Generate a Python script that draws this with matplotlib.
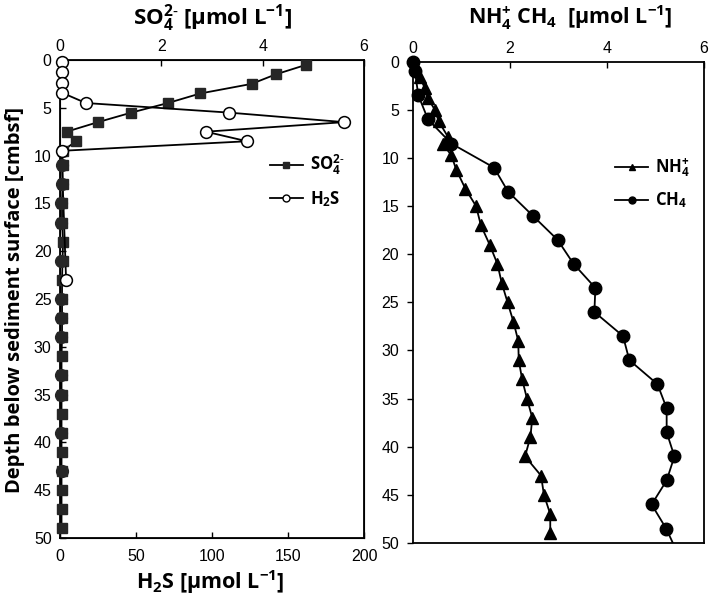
import matplotlib
matplotlib.use("Agg")
import matplotlib.pyplot as plt
from matplotlib.lines import Line2D

# ---------------- data ----------------
so4_depth = [0.5, 1.5, 2.5, 3.5, 4.5, 5.5, 6.5, 7.5, 8.5, 9.5,
             11, 13, 15, 17, 19, 21, 23, 25, 27, 29, 31, 33, 35, 37, 39, 41, 43, 45, 47, 49]
so4_conc = [4.86, 4.26, 3.78, 2.77, 2.13, 1.41, 0.75, 0.13, 0.32, 0.05,
            0.05, 0.05, 0.04, 0.04, 0.06, 0.05, 0.04, 0.04, 0.04, 0.04, 0.03, 0.03, 0.03, 0.03,
            0.03, 0.03, 0.03, 0.03, 0.03, 0.03]

h2s_depth = [0.2, 1.3, 2.4, 3.4, 4.5, 5.5, 6.5, 7.5, 8.5, 9.5, 23]
h2s_conc = [1, 1, 1, 1, 17, 111, 187, 96, 123, 1, 4]

# dark (overlapping) markers visible at the bottom of the left profile
dark_depth = [11, 13, 15, 17, 21, 25, 27, 29, 33, 35, 39, 43]
dark_conc = [1.5, 1.5, 0.5, 0.5, 0.5, 0.5, 0.5, 0.5, 0.5, 0.5, 0.5, 1.0]

nh4_depth = [0.3, 1.6, 2.7, 3.8, 5.0, 6.2, 7.8, 8.6, 9.7, 11.2, 13.2,
             15, 17, 19, 21, 23, 25, 27, 29, 31, 33, 35, 37, 39, 41, 43, 45, 47, 49]
nh4_conc = [0.04, 0.14, 0.24, 0.31, 0.45, 0.53, 0.72, 0.62, 0.79, 0.89, 1.08,
            1.30, 1.40, 1.58, 1.74, 1.83, 1.95, 2.07, 2.17, 2.18, 2.25, 2.35, 2.46, 2.42,
            2.31, 2.64, 2.70, 2.83, 2.83]

ch4_depth = [0, 1, 3.5, 6, 8.5, 11, 13.5, 16, 18.5, 21, 23.5, 26, 28.5, 31,
             33.5, 36, 38.5, 41, 43.5, 46, 48.5, 51]
ch4_conc = [0.0, 0.04, 0.11, 0.31, 0.79, 1.67, 1.96, 2.47, 2.98, 3.31, 3.76, 3.74,
            4.33, 4.46, 5.04, 5.23, 5.23, 5.39, 5.23, 4.92, 5.22, 5.45]

depth_ticks = list(range(0, 51, 5))
conc_ticks = [0, 2, 4, 6]
h2s_ticks = [0, 50, 100, 150, 200]

# ---------------- style ----------------
plt.rcParams['font.family'] = ['Liberation Sans', 'DejaVu Sans']
plt.rcParams['mathtext.fontset'] = 'custom'
plt.rcParams['mathtext.rm'] = 'Open Sans'
plt.rcParams['mathtext.bf'] = 'Open Sans:bold'
plt.rcParams['mathtext.it'] = 'Open Sans:italic'
bold_font = dict(family=['Open Sans', 'DejaVu Sans'], weight='bold')

W, H = 709, 602
fig = plt.figure(figsize=(W / 100, H / 100), dpi=100)

def frac(x0, y0, x1, y1):
    return [x0 / W, 1 - y1 / H, (x1 - x0) / W, (y1 - y0) / H]

tick_fs = 11.5
lw = 1.3

# ---------------- left panel ----------------
axL = fig.add_axes(frac(60, 60, 364, 538))
axL.set_ylim(50, 0)
axL.set_xlim(0, 200)
axL.set_yticks(depth_ticks)
axL.set_xticks(h2s_ticks)
axL.tick_params(axis='both', direction='in', labelsize=tick_fs, length=4, width=1, pad=8)
axL.tick_params(axis='y', pad=6)
for s in axL.spines.values():
    s.set_linewidth(1.3)

axT = axL.twiny()
axT.set_xlim(0, 6)
axT.set_xticks(conc_ticks)
axT.tick_params(axis='x', direction='in', labelsize=tick_fs, length=4, width=1, pad=4)

axT.plot(so4_conc, so4_depth, '-', color='black', lw=lw, marker='s', ms=7.5,
         mfc='#262626', mec='#262626', clip_on=False, zorder=3)
h2s_as_top = [v * 6 / 200 for v in h2s_conc]
axT.plot(h2s_as_top, h2s_depth, '-', color='black', lw=lw, marker='o', ms=8.5,
         mfc='white', mec='black', mew=1.1, clip_on=False, zorder=4)
dark_as_top = [v * 6 / 200 for v in dark_conc]
axT.plot(dark_as_top, dark_depth, 'o', ms=8.5, mfc='#262626', mec='#262626',
         clip_on=False, zorder=5)

hL = [Line2D([], [], color='black', lw=lw, marker='s', ms=5, mfc='#262626', mec='#262626'),
      Line2D([], [], color='black', lw=lw, marker='o', ms=5, mfc='white', mec='black')]
axT.legend(hL, [r'SO$_\mathbf{4}^\mathbf{2\text{-}}$', r'H$_\mathbf{2}$S'],
           loc='upper left', bbox_to_anchor=(0.64, 0.837), frameon=False,
           handlelength=2.0, handletextpad=0.4, labelspacing=0.7,
           prop=dict(family=['Open Sans', 'DejaVu Sans'], weight='bold', size=12))

fig.text(213 / W, 1 - 18 / H, r'SO$_\mathbf{4}^\mathbf{2\text{-}}$ [µmol L$^\mathbf{-1}$]',
         ha='center', va='center', fontsize=16, **bold_font)
fig.text(210 / W, 1 - 582 / H, r'H$_\mathbf{2}$S [µmol L$^\mathbf{-1}$]',
         ha='center', va='center', fontsize=15.5, **bold_font)
fig.text(15 / W, 1 - 300 / H, 'Depth below sediment surface [cmbsf]', rotation=90,
         ha='center', va='center', fontsize=14.5, **bold_font)

# ---------------- right panel ----------------
axR = fig.add_axes(frac(413, 61.7, 704, 543))
axR.set_ylim(50, 0)
axR.set_xlim(0, 6)
axR.set_yticks(depth_ticks)
axR.set_xticks(conc_ticks)
axR.xaxis.tick_top()
axR.tick_params(axis='x', direction='in', labelsize=tick_fs, length=4, width=1, pad=4)
axR.tick_params(axis='y', direction='out', labelsize=tick_fs, length=4, width=1, pad=6)
for s in axR.spines.values():
    s.set_linewidth(1.3)

axR.plot(nh4_conc, nh4_depth, '-', color='black', lw=lw, marker='^', ms=8,
         mfc='black', mec='black', clip_on=False, zorder=3)
axR.plot(ch4_conc, ch4_depth, '-', color='black', lw=lw, zorder=3)
ch4_d_in = [d for d in ch4_depth if d <= 50]
ch4_c_in = [c for c, d in zip(ch4_conc, ch4_depth) if d <= 50]
axR.plot(ch4_c_in, ch4_d_in, 'o', ms=9, mfc='black', mec='black', clip_on=False, zorder=4)

hR = [Line2D([], [], color='black', lw=lw, marker='^', ms=5, mfc='black', mec='black'),
      Line2D([], [], color='black', lw=lw, marker='o', ms=5, mfc='black', mec='black')]
axR.legend(hR, [r'NH$_\mathbf{4}^\mathbf{+}$', r'CH$_\mathbf{4}$'],
           loc='upper left', bbox_to_anchor=(0.643, 0.835), frameon=False,
           handlelength=2.0, handletextpad=0.4, labelspacing=0.7,
           prop=dict(family=['Open Sans', 'DejaVu Sans'], weight='bold', size=12))

fig.text(570 / W, 1 - 18 / H, r'NH$_\mathbf{4}^\mathbf{+}$ CH$_\mathbf{4}$  [µmol L$^\mathbf{-1}$]',
         ha='center', va='center', fontsize=15.5, **bold_font)

fig.savefig('out.png', dpi=100)
